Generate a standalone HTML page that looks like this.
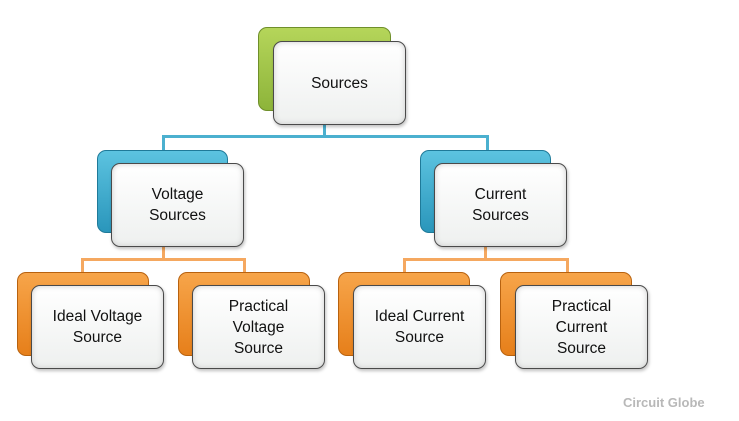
<!DOCTYPE html>
<html><head><style>
body{margin:0;width:739px;height:421px;background:#fff;position:relative;overflow:hidden;font-family:"Liberation Sans",sans-serif}
.b{position:absolute;border-radius:9px;box-sizing:border-box}
.g{background:linear-gradient(180deg,#b5d55a,#8db43a);border:1px solid #6f8f2a}
.bl{background:linear-gradient(180deg,#5cc3e0,#2a96bb);border:1px solid #1f7a99}
.o{background:linear-gradient(180deg,#f7a54a,#e67f1a);border:1px solid #b8620f}
.f{background:linear-gradient(180deg,#fff,#eef0ef);border:1.5px solid #4a4a4a;box-shadow:inset 0 0 6px #ccc,1px 2px 3px rgba(0,0,0,.25);display:flex;align-items:center;justify-content:center;text-align:center;font-size:15.5px;line-height:21px;color:#111}
.l{position:absolute}
.lb{background:#4bb0cf}.lo{background:#f5a860}
</style></head><body>
<div class="l lb" style="left:323px;top:124px;width:3px;height:14px"></div>
<div class="l lb" style="left:162px;top:135px;width:327px;height:3px"></div>
<div class="l lb" style="left:162px;top:135px;width:3px;height:16px"></div>
<div class="l lb" style="left:486px;top:135px;width:3px;height:16px"></div>
<div class="l lo" style="left:162px;top:246px;width:3px;height:14px"></div>
<div class="l lo" style="left:81px;top:258px;width:165px;height:3px"></div>
<div class="l lo" style="left:81px;top:258px;width:3px;height:15px"></div>
<div class="l lo" style="left:243px;top:258px;width:3px;height:15px"></div>
<div class="l lo" style="left:484px;top:246px;width:3px;height:14px"></div>
<div class="l lo" style="left:403px;top:258px;width:166px;height:3px"></div>
<div class="l lo" style="left:403px;top:258px;width:3px;height:15px"></div>
<div class="l lo" style="left:566px;top:258px;width:3px;height:15px"></div>

<div class="b g" style="left:258px;top:27px;width:133px;height:84px"></div>
<div class="b f" style="left:273px;top:41px;width:133px;height:84px">Sources</div>

<div class="b bl" style="left:97px;top:150px;width:131px;height:83px"></div>
<div class="b f" style="left:111px;top:163px;width:133px;height:84px">Voltage<br>Sources</div>
<div class="b bl" style="left:420px;top:150px;width:131px;height:83px"></div>
<div class="b f" style="left:434px;top:163px;width:133px;height:84px">Current<br>Sources</div>

<div class="b o" style="left:17px;top:272px;width:132px;height:84px"></div>
<div class="b f" style="left:31px;top:285px;width:133px;height:84px">Ideal Voltage<br>Source</div>
<div class="b o" style="left:178px;top:272px;width:132px;height:84px"></div>
<div class="b f" style="left:192px;top:285px;width:133px;height:84px">Practical<br>Voltage<br>Source</div>
<div class="b o" style="left:338px;top:272px;width:132px;height:84px"></div>
<div class="b f" style="left:353px;top:285px;width:133px;height:84px">Ideal Current<br>Source</div>
<div class="b o" style="left:500px;top:272px;width:132px;height:84px"></div>
<div class="b f" style="left:515px;top:285px;width:133px;height:84px">Practical<br>Current<br>Source</div>

<div style="position:absolute;left:623px;top:395px;font-size:13px;font-weight:bold;color:#b8b8b8">Circuit Globe</div>
</body></html>
